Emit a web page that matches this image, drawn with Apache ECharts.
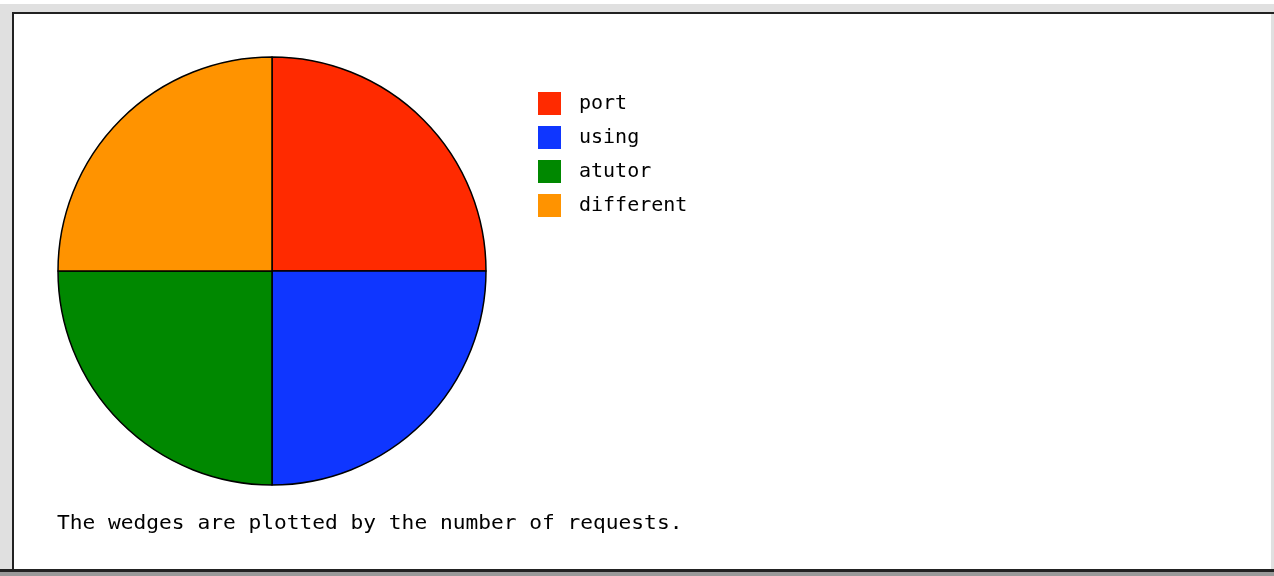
<!DOCTYPE html>
<html>
<head>
<meta charset="utf-8">
<script src="https://cdn.jsdelivr.net/npm/echarts@6/dist/echarts.min.js"></script>
<style>
html,body{margin:0;padding:0;background:#fff;}
#chart{width:1274px;height:576px;}
</style>
</head>
<body>
<div id="chart"></div>
<script>
const categories = ['port', 'using', 'atutor', 'different'];
const requests = [1, 1, 1, 1];
const colors = ['#ff2a00', '#0f36ff', '#008800', '#ff9300'];
const footnote = 'The wedges are plotted by the number of requests.';

const chart = echarts.init(document.getElementById('chart'));
const mono = '"DejaVu Sans Mono", "Liberation Mono", monospace';

chart.setOption({
  animation: false,
  backgroundColor: '#fff',
  color: colors,
  legend: {
    orient: 'vertical',
    left: 538,
    top: 92,
    padding: 0,
    itemWidth: 23,
    itemHeight: 23,
    itemGap: 11,
    icon: 'rect',
    data: categories,
    itemStyle: { borderWidth: 0 },
    textStyle: { fontFamily: mono, fontSize: 20, color: '#000', lineHeight: 23, padding: [0, 0, 0, 13] }
  },
  graphic: [
    { type: 'rect', shape: { x: 0, y: 4, width: 1274, height: 9 }, style: { fill: '#e0e0e0' }, silent: true },
    { type: 'rect', shape: { x: 0, y: 4, width: 12, height: 572 }, style: { fill: '#e0e0e0' }, silent: true },
    { type: 'rect', shape: { x: 12, y: 12, width: 1262, height: 2 }, style: { fill: '#222' }, silent: true },
    { type: 'rect', shape: { x: 12, y: 12, width: 2, height: 560 }, style: { fill: '#222' }, silent: true },
    { type: 'rect', shape: { x: 0, y: 569, width: 1274, height: 3 }, style: { fill: '#222' }, silent: true },
    { type: 'rect', shape: { x: 0, y: 572, width: 1274, height: 4 }, style: { fill: '#999' }, silent: true },
    { type: 'rect', shape: { x: 1271, y: 14, width: 3, height: 555 }, style: { fill: '#e0e0e0' }, silent: true },
    {
      type: 'text', x: 57, y: 524, scaleX: 1.06,
      style: { text: footnote, font: '20px ' + mono, fill: '#000', textVerticalAlign: 'middle' },
      silent: true
    }
  ],
  series: [{
    type: 'pie',
    center: [272, 271],
    radius: 214,
    startAngle: 90,
    clockwise: true,
    label: { show: false },
    labelLine: { show: false },
    emphasis: { disabled: true },
    itemStyle: { borderColor: '#000', borderWidth: 1.5 },
    data: categories.map((c, i) => ({ name: c, value: requests[i] }))
  }]
});
</script>
</body>
</html>
